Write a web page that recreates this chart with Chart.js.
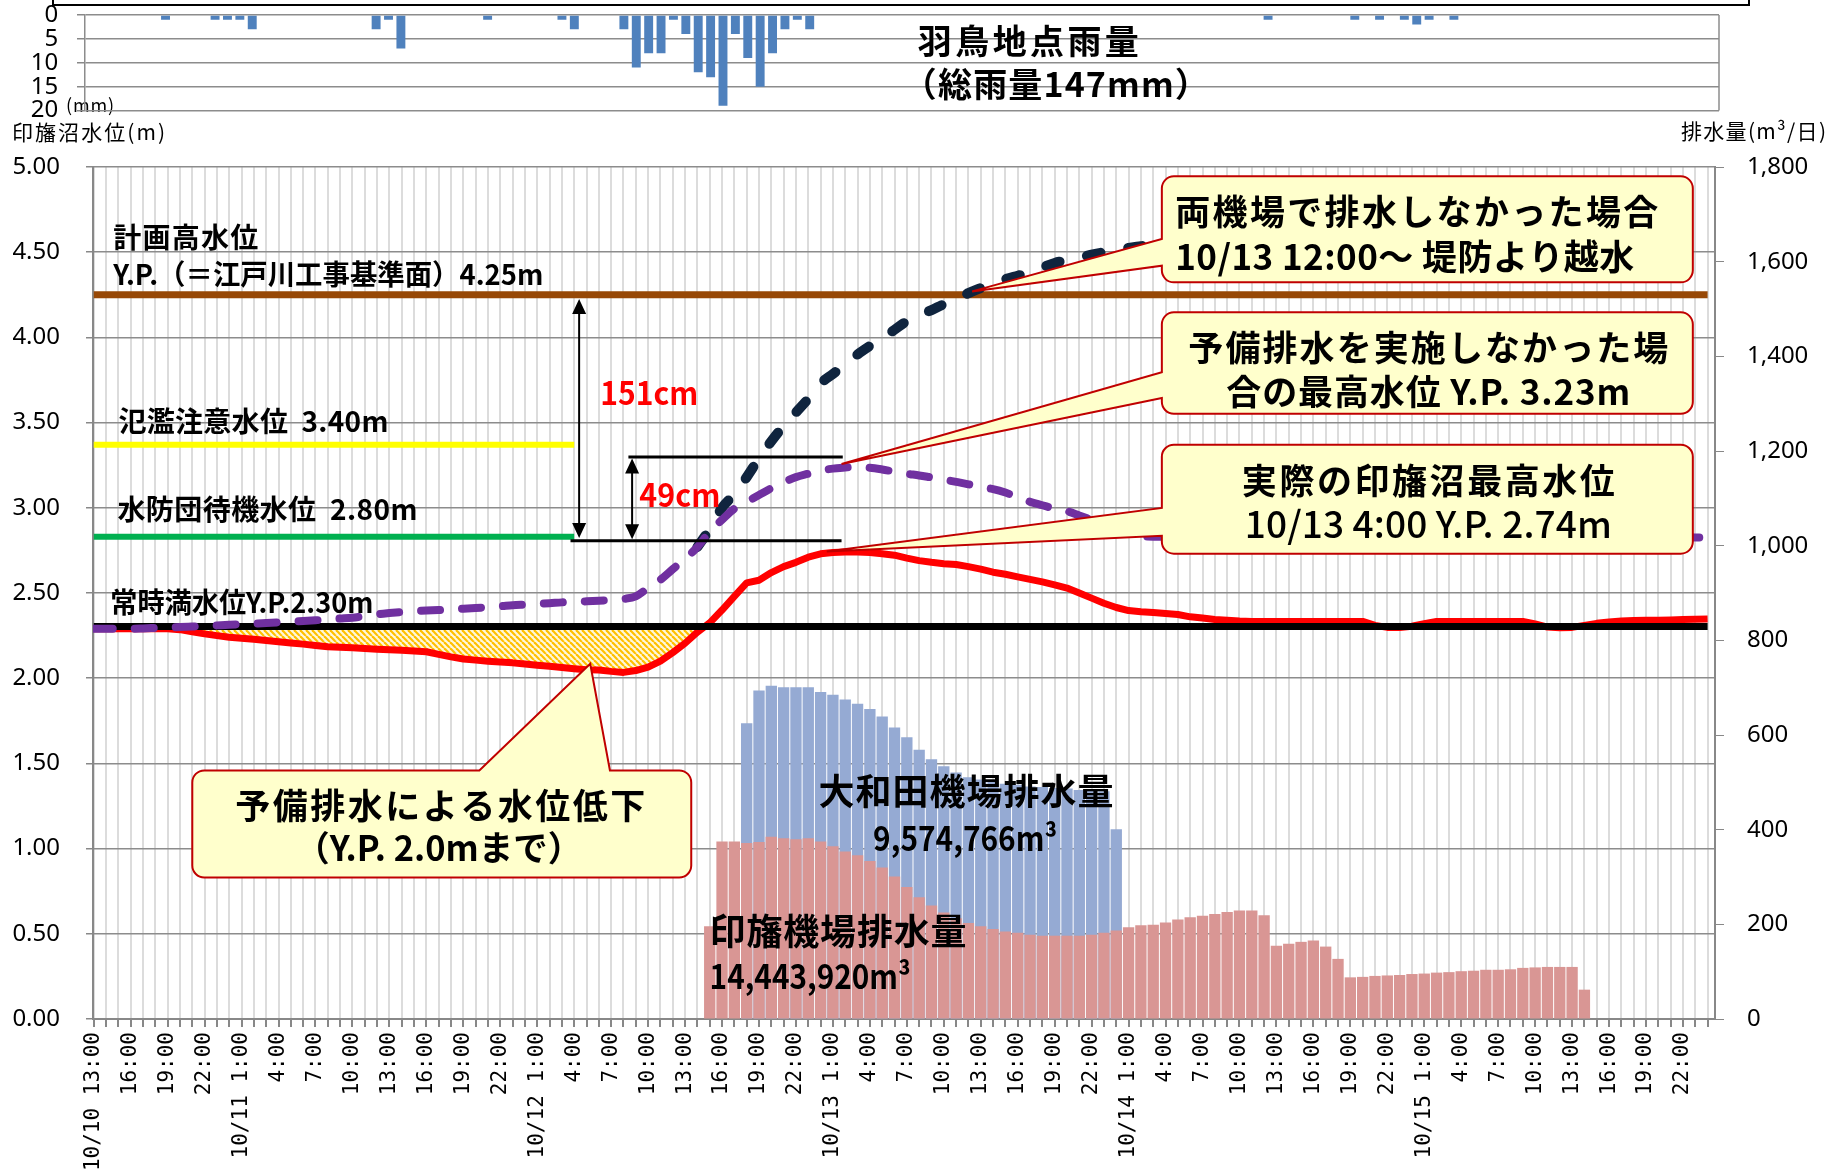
<!DOCTYPE html>
<html lang="ja">
<head>
<meta charset="utf-8">
<title>印旛沼水位・排水量</title>
<script src="https://cdn.jsdelivr.net/npm/chart.js@4.4.1/dist/chart.umd.min.js"></script>
<style>
  html, body { margin: 0; padding: 0; background: #fff; }
  #wrap { position: relative; width: 1845px; height: 1169px; overflow: hidden; }
  #mainChart, #rainChart { position: absolute; left: 0; top: 0; }
  #topFrame { position: absolute; left: 52px; top: -40px; width: 1694px; height: 42px; border: 2px solid #000; }
</style>
</head>
<body>
<div id="wrap">
  <canvas id="mainChart" width="1845" height="1169"></canvas>
  <canvas id="rainChart" width="1845" height="125"></canvas>
  <div id="topFrame"></div>
</div>
<script>
'use strict';

// hourly steps from 10/10 13:00 (index 0) to 10/16 0:00 (index 131)
const hourIndex = Array.from({ length: 132 }, (_, i) => i);

// every third hour gets a label
const tickLabels = [
    '10/10 13:00', '16:00', '19:00', '22:00',
    '10/11 1:00', '4:00', '7:00', '10:00', '13:00', '16:00', '19:00', '22:00',
    '10/12 1:00', '4:00', '7:00', '10:00', '13:00', '16:00', '19:00', '22:00',
    '10/13 1:00', '4:00', '7:00', '10:00', '13:00', '16:00', '19:00', '22:00',
    '10/14 1:00', '4:00', '7:00', '10:00', '13:00', '16:00', '19:00', '22:00',
    '10/15 1:00', '4:00', '7:00', '10:00', '13:00', '16:00', '19:00', '22:00'
];

// 羽鳥地点 hourly rain (mm)
const rainMm = [
    0, 0, 0, 0, 0, 0, 1, 0, 0, 0, 1, 1,
    1, 3, 0, 0, 0, 0, 0, 0, 0, 0, 0, 3,
    1, 7, 0, 0, 0, 0, 0, 0, 1, 0, 0, 0,
    0, 0, 1, 3, 0, 0, 0, 3, 11, 8, 8, 1,
    4, 12, 13, 19, 4, 9, 15, 8, 3, 1, 3, 0,
    0, 0, 0, 0, 0, 0, 0, 0, 0, 0, 0, 0,
    0, 0, 0, 0, 0, 0, 0, 0, 0, 0, 0, 0,
    0, 0, 0, 0, 0, 0, 0, 0, 0, 0, 0, 1,
    0, 0, 0, 0, 0, 0, 1, 0, 1, 0, 1, 2,
    1, 0, 1, 0, 0, 0, 0, 0, 0, 0, 0, 0,
    0, 0, 0, 0, 0, 0, 0, 0, 0, 0, 0, 0
];

// actual water level of 印旛沼 (m)
const actualLevel = [
    2.29, 2.29, 2.29, 2.29, 2.29, 2.29, 2.29, 2.285, 2.272, 2.26, 2.25, 2.24,
    2.235, 2.228, 2.221, 2.214, 2.207, 2.2, 2.192, 2.185, 2.181, 2.178, 2.174, 2.17,
    2.167, 2.164, 2.16, 2.155, 2.14, 2.125, 2.113, 2.106, 2.1, 2.095, 2.09, 2.083,
    2.076, 2.07, 2.063, 2.056, 2.05, 2.048, 2.04, 2.034, 2.045, 2.065, 2.1, 2.15,
    2.205, 2.27, 2.325, 2.4, 2.48, 2.559, 2.575, 2.62, 2.655, 2.68, 2.71, 2.73,
    2.738, 2.74, 2.74, 2.738, 2.73, 2.722, 2.705, 2.69, 2.68, 2.672, 2.667, 2.655,
    2.64, 2.622, 2.61, 2.595, 2.58, 2.565, 2.548, 2.529, 2.5, 2.47, 2.44, 2.415,
    2.397, 2.39, 2.386, 2.38, 2.374, 2.36, 2.353, 2.345, 2.34, 2.335, 2.333, 2.333,
    2.333, 2.333, 2.333, 2.333, 2.333, 2.333, 2.333, 2.333, 2.31, 2.298, 2.298, 2.305,
    2.32, 2.333, 2.333, 2.333, 2.333, 2.333, 2.333, 2.333, 2.333, 2.318, 2.3, 2.296,
    2.298, 2.31, 2.322, 2.33, 2.335, 2.338, 2.34, 2.34, 2.342, 2.344, 2.346, 2.348
];

// level without the preliminary drawdown (m)
const noPrelimLevel = [
    2.29, 2.29, 2.29, 2.29, 2.292, 2.295, 2.298, 2.3, 2.303, 2.306, 2.31, 2.314,
    2.317, 2.32, 2.324, 2.328, 2.332, 2.336, 2.34, 2.345, 2.35, 2.355, 2.365, 2.375,
    2.382, 2.388, 2.393, 2.397, 2.4, 2.404, 2.408, 2.412, 2.417, 2.422, 2.428, 2.432,
    2.436, 2.44, 2.445, 2.448, 2.451, 2.455, 2.458, 2.465, 2.48, 2.53, 2.578, 2.64,
    2.7, 2.77, 2.86, 2.93, 2.995, 3.035, 3.075, 3.115, 3.15, 3.18, 3.2, 3.219,
    3.23, 3.237, 3.238, 3.235, 3.225, 3.212, 3.2, 3.19, 3.178, 3.166, 3.152, 3.138,
    3.12, 3.11, 3.09, 3.06, 3.035, 3.015, 2.995, 2.98, 2.955, 2.93, 2.905, 2.88,
    2.855, 2.835, 2.83, 2.83, 2.83, 2.83, 2.83, 2.83, 2.83, 2.83, 2.83, 2.83,
    2.83, 2.83, 2.83, 2.83, 2.83, 2.83, 2.83, 2.83, 2.83, 2.83, 2.83, 2.83,
    2.83, 2.83, 2.83, 2.83, 2.83, 2.83, 2.83, 2.83, 2.83, 2.83, 2.83, 2.83,
    2.83, 2.83, 2.83, 2.83, 2.828, 2.828, 2.828, 2.828, 2.827, 2.827, 2.826, 2.826
];

// level if neither pumping station had run (m)
const noPumpLevel = [
    null, null, null, null, null, null, null, null, null, null, null, null,
    null, null, null, null, null, null, null, null, null, null, null, null,
    null, null, null, null, null, null, null, null, null, null, null, null,
    null, null, null, null, null, null, null, null, null, null, null, null,
    null, 2.77, 2.875, 3.0, 3.08, 3.18, 3.29, 3.39, 3.48, 3.56, 3.64, 3.73,
    3.785, 3.84, 3.9, 3.95, 3.995, 4.045, 4.095, 4.13, 4.16, 4.195, 4.223, 4.26,
    4.29, 4.32, 4.342, 4.362, 4.382, 4.41, 4.437, 4.452, 4.466, 4.486, 4.5, 4.513,
    4.525, 4.535, 4.545, 4.555, 4.565, 4.575, 4.585, 4.595, 4.605, 4.615, 4.625, 4.635,
    4.645, 4.655, 4.664, 4.673, 4.682, 4.691, 4.7, 4.709, 4.718, 4.727, 4.735, 4.743,
    4.751, 4.759, 4.767, 4.775, 4.783, 4.79, 4.797, 4.804, 4.811, 4.818, 4.825, 4.832,
    4.839, 4.846, 4.852, 4.858, 4.864, 4.87, 4.876, 4.882, 4.887, 4.892, 4.896, 4.9
];

// 印旛機場 discharge
const inbaPump = [
    null, null, null, null, null, null, null, null, null, null, null, null,
    null, null, null, null, null, null, null, null, null, null, null, null,
    null, null, null, null, null, null, null, null, null, null, null, null,
    null, null, null, null, null, null, null, null, null, null, null, null,
    null, null, 196, 375, 375, 372, 374, 385, 382, 380, 382, 375,
    365, 354, 346, 334, 320, 301, 279, 257, 240, 225, 213, 203,
    196, 190, 185, 182, 178, 176, 176, 176, 176, 178, 182, 187,
    194, 198, 199, 204, 210, 215, 218, 222, 226, 229, 229, 219,
    155, 159, 163, 166, 153, 127, 88, 89, 91, 92, 93, 95,
    96, 98, 99, 101, 102, 104, 104, 105, 108, 109, 110, 110,
    110, 62, null, null, null, null, null, null, null, null, null, null
];

// 大和田機場 discharge (top of the blue bars)
const owadaPump = [
    null, null, null, null, null, null, null, null, null, null, null, null,
    null, null, null, null, null, null, null, null, null, null, null, null,
    null, null, null, null, null, null, null, null, null, null, null, null,
    null, null, null, null, null, null, null, null, null, null, null, null,
    null, null, null, null, null, 625, 694, 704, 701, 701, 701, 691,
    685, 675, 666, 655, 639, 616, 595, 569, 549, 534, 521, 511,
    506, 502, 497, 495, 491, 490, 488, 487, 484, 483, 481, 401,
    null, null, null, null, null, null, null, null, null, null, null, null,
    null, null, null, null, null, null, null, null, null, null, null, null,
    null, null, null, null, null, null, null, null, null, null, null, null,
    null, null, null, null, null, null, null, null, null, null, null, null
];

// reference levels (m); the two guide lines stop at index guideEnd
const planHighLevel = 4.25;
const floodWarnLevel = 3.37;
const standbyLevel = 2.83;
const normalLevel = 2.304;
const guideEnd = 39;

const JP = "'Noto Sans CJK JP', 'Noto Sans', sans-serif";
const NUM = "'Noto Sans', sans-serif";

// measurement marks, in (hour index, level) terms
const measureLines = [
    { level: 3.298, from: 43.4, to: 60.8 },
    { level: 2.807, from: 38.7, to: 60.7 }
];
const measureArrows = [
    { at: 39.4, top: 4.225, bottom: 2.823 },
    { at: 43.7, top: 3.29, bottom: 2.815 }
];

// callouts: box [left, right, top, bottom], wedge base and tip
const callouts = [
    { box: [86.7, 129.8, 4.945, 4.323], side: 'left', base: [4.577, 4.421], tip: [71.3, 4.27] },
    { box: [86.7, 129.8, 4.147, 3.552], side: 'left', base: [3.795, 3.644], tip: [60.7, 3.257] },
    { box: [86.7, 129.8, 3.37, 2.731], side: 'left', base: [2.999, 2.836], tip: [59.5, 2.744] },
    { box: [8.0, 48.5, 1.459, 0.83], side: 'top', base: [31.3, 41.9], tip: [40.3, 2.085] }
];

// texts placed in chart terms (i = hour index, v = level); w = drawn width in px
const chartTexts = [
    { text: '計画高水位', i: 1.59, v: 4.585, w: 145, size: 28 },
    { text: 'Y.P.（＝江戸川工事基準面）4.25m', i: 1.59, v: 4.368, w: 430, size: 28 },
    { text: '氾濫注意水位  3.40m', i: 2.0, v: 3.508, w: 270, size: 28 },
    { text: '水防団待機水位  2.80m', i: 1.92, v: 2.991, w: 300, size: 28 },
    { text: '常時満水位Y.P.2.30m', i: 1.35, v: 2.443, w: 263, size: 28 },
    { text: '151cm', i: 41.12, v: 3.674, w: 98, size: 32, color: '#FF0000' },
    { text: '49cm', i: 44.29, v: 3.075, w: 81, size: 32, color: '#FF0000' },
    { text: '大和田機場排水量', i: 70.81, v: 1.334, w: 295, size: 36, align: 'center' },
    { text: '9,574,766m³', i: 70.73, v: 1.064, w: 184, size: 34, align: 'center' },
    { text: '印旛機場排水量', i: 49.99, v: 0.512, w: 257, size: 36 },
    { text: '14,443,920m³', i: 49.99, v: 0.254, w: 201, size: 34 },
    { text: '両機場で排水しなかった場合', i: 87.79, v: 4.738, w: 483, size: 35 },
    { text: '10/13 12:00～ 堤防より越水', i: 87.79, v: 4.476, w: 459, size: 35 },
    { text: '予備排水を実施しなかった場', i: 108.33, v: 3.942, w: 480, size: 35, align: 'center' },
    { text: '合の最高水位 Y.P. 3.23m', i: 108.33, v: 3.683, w: 404, size: 35, align: 'center' },
    { text: '実際の印旛沼最高水位', i: 108.33, v: 3.159, w: 373, size: 35, align: 'center' },
    { text: '10/13 4:00 Y.P. 2.74m', i: 108.33, v: 2.907, w: 367, size: 37, weight: 500, align: 'center' },
    { text: '予備排水による水位低下', i: 28.13, v: 1.252, w: 410, size: 35, align: 'center' },
    { text: '（Y.P. 2.0mまで）', i: 28.0, v: 1.003, w: 287, size: 35, align: 'center' }
];

// axis titles, page pixels
const pageTexts = [
    { text: '印旛沼水位(m)', x: 12, y: 132, w: 153, size: 21, weight: 400 },
    { text: '排水量(m³/日)', x: 1681, y: 131, w: 145, size: 21, weight: 400 },
    { text: '(mm)', x: 66, y: 105, w: 48, size: 18, weight: 400 }
];

// rain panel texts (i = hour index, v = mm)
const rainTexts = [
    { text: '羽鳥地点雨量', i: 66.73, v: 5.43, w: 221, size: 34 },
    { text: '（総雨量147mm）', i: 65.52, v: 14.46, w: 306, size: 34 }
];

const drawText = function (ctx, t, px, py) {
    ctx.save();
    ctx.font = (t.weight || 700) + ' ' + t.size + 'px ' + JP;
    ctx.fillStyle = t.color || '#000';
    ctx.textBaseline = 'middle';
    ctx.textAlign = 'left';
    const natural = ctx.measureText(t.text).width;
    const left = t.align === 'center' ? px - t.w / 2 : px;
    const n = Array.from(t.text).length;
    if (natural <= t.w) {
        ctx.letterSpacing = ((t.w - natural) / Math.max(n - 1, 1)) + 'px';
        ctx.fillText(t.text, left, py);
    } else {
        ctx.translate(left, py);
        ctx.scale(t.w / natural, 1);
        ctx.fillText(t.text, 0, 0);
    }
    ctx.restore();
};

const drawDoubleArrow = function (ctx, x, yTop, yBottom) {
    const head = 15, half = 7;
    ctx.lineWidth = 2;
    ctx.beginPath();
    ctx.moveTo(x, yTop + head - 2);
    ctx.lineTo(x, yBottom - head + 2);
    ctx.stroke();
    ctx.beginPath();
    ctx.moveTo(x, yTop);
    ctx.lineTo(x - half, yTop + head);
    ctx.lineTo(x + half, yTop + head);
    ctx.closePath();
    ctx.fill();
    ctx.beginPath();
    ctx.moveTo(x, yBottom);
    ctx.lineTo(x - half, yBottom - head);
    ctx.lineTo(x + half, yBottom - head);
    ctx.closePath();
    ctx.fill();
};

const calloutPath = function (ctx, c, X, Y) {
    const l = X(c.box[0]), r = X(c.box[1]), t = Y(c.box[2]), b = Y(c.box[3]);
    const rad = 12;
    const tx = X(c.tip[0]), ty = Y(c.tip[1]);
    ctx.beginPath();
    ctx.moveTo(l + rad, t);
    if (c.side === 'top') {
        ctx.lineTo(X(c.base[0]), t);
        ctx.lineTo(tx, ty);
        ctx.lineTo(X(c.base[1]), t);
    }
    ctx.lineTo(r - rad, t);
    ctx.arcTo(r, t, r, t + rad, rad);
    ctx.lineTo(r, b - rad);
    ctx.arcTo(r, b, r - rad, b, rad);
    ctx.lineTo(l + rad, b);
    ctx.arcTo(l, b, l, b - rad, rad);
    if (c.side === 'left') {
        ctx.lineTo(l, Y(c.base[1]));
        ctx.lineTo(tx, ty);
        ctx.lineTo(l, Y(c.base[0]));
    }
    ctx.lineTo(l, t + rad);
    ctx.arcTo(l, t, l + rad, t, rad);
    ctx.closePath();
};

const annotationPlugin = {
    id: 'inbaAnnotations',
    afterDatasetsDraw(chart) {
        const ctx = chart.ctx;
        const X = i => chart.scales.x.getPixelForValue(i);
        const Y = v => chart.scales.y.getPixelForValue(v);
        ctx.save();
        ctx.strokeStyle = '#000';
        ctx.fillStyle = '#000';
        ctx.lineWidth = 3;
        measureLines.forEach(m => {
            ctx.beginPath();
            ctx.moveTo(X(m.from), Y(m.level));
            ctx.lineTo(X(m.to), Y(m.level));
            ctx.stroke();
        });
        measureArrows.forEach(a => drawDoubleArrow(ctx, X(a.at), Y(a.top), Y(a.bottom)));
        ctx.restore();
    },
    afterDraw(chart) {
        const ctx = chart.ctx;
        const X = i => chart.scales.x.getPixelForValue(i);
        const Y = v => chart.scales.y.getPixelForValue(v);
        ctx.save();
        callouts.forEach(c => {
            calloutPath(ctx, c, X, Y);
            ctx.fillStyle = '#FFFFCC';
            ctx.fill();
            ctx.lineWidth = 2;
            ctx.strokeStyle = '#C00000';
            ctx.lineJoin = 'miter';
            ctx.stroke();
        });
        ctx.restore();
        chartTexts.forEach(t => drawText(ctx, t, X(t.i), Y(t.v)));
        pageTexts.forEach(t => drawText(ctx, t, t.x, t.y));
    }
};

const rainPlugin = {
    id: 'rainFrame',
    afterDraw(chart) {
        const ctx = chart.ctx;
        const area = chart.chartArea;
        ctx.save();
        ctx.strokeStyle = '#8C8C8C';
        ctx.lineWidth = 1.5;
        ctx.beginPath();
        ctx.moveTo(area.right, area.top);
        ctx.lineTo(area.right, area.bottom);
        ctx.stroke();
        ctx.restore();
        const X = i => chart.scales.x.getPixelForValue(i);
        const Y = v => chart.scales.y.getPixelForValue(v);
        rainTexts.forEach(t => drawText(ctx, t, X(t.i), Y(t.v)));
    }
};

// orange hatching for the drawdown area
const hatchCanvas = document.createElement('canvas');
hatchCanvas.width = 6;
hatchCanvas.height = 6;
const hctx = hatchCanvas.getContext('2d');
hctx.fillStyle = '#FFF7DC';
hctx.fillRect(0, 0, 6, 6);
hctx.strokeStyle = '#FFC000';
hctx.lineWidth = 2.2;
[-6, 0, 6].forEach(k => {
    hctx.beginPath();
    hctx.moveTo(k, 0);
    hctx.lineTo(k + 6, 6);
    hctx.stroke();
});
const hatch = document.getElementById('mainChart').getContext('2d').createPattern(hatchCanvas, 'repeat');

const lineBase = { type: 'line', yAxisID: 'y', pointRadius: 0, fill: false, tension: 0 };

const mainChart = new Chart(document.getElementById('mainChart'), {
    type: 'bar',
    data: {
        labels: hourIndex,
        datasets: [
            Object.assign({}, lineBase, {
                label: '計画高水位', data: hourIndex.map(() => planHighLevel),
                borderColor: '#974806', borderWidth: 7, order: 5
            }),
            Object.assign({}, lineBase, {
                label: '氾濫注意水位', data: hourIndex.map(i => (i <= guideEnd ? floodWarnLevel : null)),
                borderColor: '#FFFF00', borderWidth: 6, order: 5
            }),
            Object.assign({}, lineBase, {
                label: '水防団待機水位', data: hourIndex.map(i => (i <= guideEnd ? standbyLevel : null)),
                borderColor: '#00B050', borderWidth: 6, order: 5
            }),
            Object.assign({}, lineBase, {
                label: '常時満水位', data: hourIndex.map(() => normalLevel),
                borderColor: '#000000', borderWidth: 7, order: 2
            }),
            Object.assign({}, lineBase, {
                label: '実際の水位', data: actualLevel,
                borderColor: '#FF0000', borderWidth: 7, borderJoinStyle: 'round', order: 3,
                fill: { target: 3, above: 'rgba(0,0,0,0)', below: hatch }
            }),
            Object.assign({}, lineBase, {
                label: '両機場で排水しなかった場合', data: noPumpLevel,
                borderColor: '#0F243E', borderWidth: 10, borderDash: [14, 28],
                borderCapStyle: 'round', cubicInterpolationMode: 'monotone', order: 1
            }),
            Object.assign({}, lineBase, {
                label: '予備排水を実施しなかった場合', data: noPrelimLevel,
                borderColor: '#7030A0', borderWidth: 8, borderDash: [19, 22],
                borderCapStyle: 'round', cubicInterpolationMode: 'monotone', order: 0
            }),
            {
                type: 'bar', label: '印旛機場排水量', data: inbaPump, yAxisID: 'y2',
                backgroundColor: '#D99694', grouped: false, barPercentage: 0.92, categoryPercentage: 1, order: 8
            },
            {
                type: 'bar', label: '大和田機場排水量', data: owadaPump, yAxisID: 'y2',
                backgroundColor: '#95AAD3', grouped: false, barPercentage: 0.92, categoryPercentage: 1, order: 9
            }
        ]
    },
    options: {
        responsive: false,
        animation: false,
        layout: { padding: { top: 167, left: 0, right: 0, bottom: 0 } },
        plugins: { legend: { display: false }, tooltip: { enabled: false } },
        scales: {
            x: {
                type: 'linear', min: -0.06, max: 131.6, offset: false,
                afterFit: s => { s.height = 150; },
                grid: { offset: false, color: '#DCDCDC', lineWidth: 2, tickColor: '#888888', tickLength: 8 },
                border: { color: '#888888', width: 2 },
                ticks: {
                    stepSize: 1, autoSkip: false, includeBounds: false,
                    minRotation: 90, maxRotation: 90, padding: 5, color: '#000',
                    font: { family: "'DejaVu Sans Mono', monospace", size: 21 },
                    callback: v => (v % 3 === 0 && tickLabels[v / 3] ? tickLabels[v / 3] : '')
                }
            },
            y: {
                position: 'left', min: 0, max: 5,
                afterFit: s => { s.width = 93; },
                grid: { color: '#8C8C8C', lineWidth: 1.5, tickColor: '#888888', tickLength: 7 },
                border: { color: '#888888', width: 2 },
                ticks: {
                    stepSize: 0.5, padding: 26, color: '#000',
                    font: { family: NUM, size: 24 },
                    callback: v => v.toFixed(2)
                }
            },
            y2: {
                position: 'right', min: 0, max: 1800,
                afterFit: s => { s.width = 130; },
                grid: { drawOnChartArea: false, tickColor: '#888888', tickLength: 9 },
                border: { color: '#888888', width: 2 },
                ticks: {
                    stepSize: 200, padding: 23, color: '#000',
                    font: { family: NUM, size: 24 },
                    callback: v => v.toLocaleString('en-US')
                }
            }
        }
    },
    plugins: [annotationPlugin]
});

const rainChart = new Chart(document.getElementById('rainChart'), {
    type: 'bar',
    data: {
        labels: hourIndex,
        datasets: [{
            label: '羽鳥地点雨量', data: rainMm, backgroundColor: '#4F81BD',
            barPercentage: 0.72, categoryPercentage: 1
        }]
    },
    options: {
        responsive: false,
        animation: false,
        layout: { padding: { top: 15, right: 126, bottom: 14, left: 0 } },
        plugins: { legend: { display: false }, tooltip: { enabled: false } },
        scales: {
            x: { type: 'linear', min: -0.5, max: 131.4, offset: false, display: false },
            y: {
                reverse: true, min: 0, max: 20,
                afterFit: s => { s.width = 85; },
                grid: { color: '#8C8C8C', lineWidth: 1.5, tickColor: '#888888', tickLength: 8 },
                border: { color: '#8C8C8C', width: 1.5 },
                // trailing spaces keep the labels clear of the axis without extra vertical padding
                ticks: {
                    stepSize: 5, padding: 0, autoSkip: false, color: '#000',
                    font: { family: NUM, size: 24 },
                    callback: v => v + '   '
                }
            }
        }
    },
    plugins: [rainPlugin]
});
</script>
</body>
</html>
